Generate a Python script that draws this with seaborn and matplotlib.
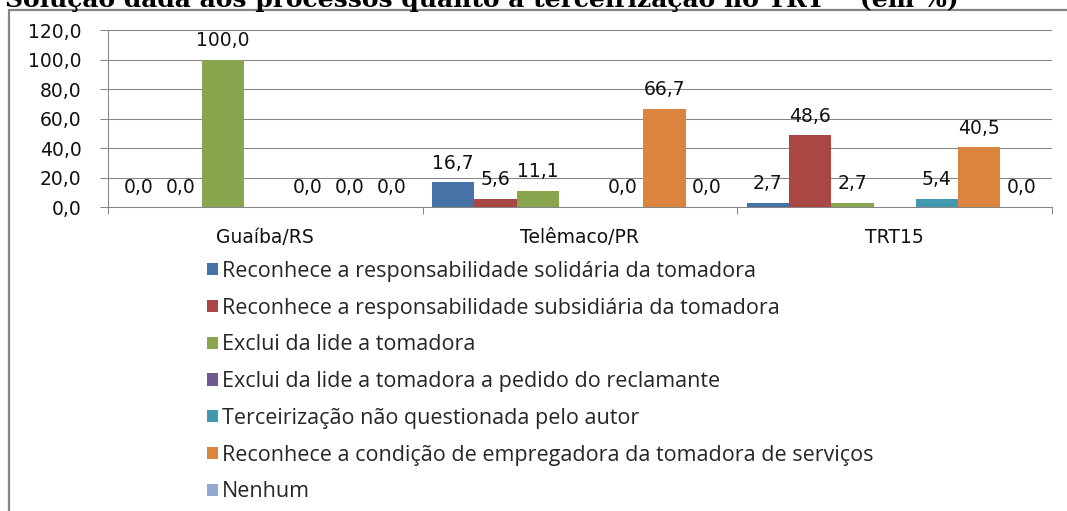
import numpy as np
import pandas as pd
import matplotlib
matplotlib.use("Agg")
import matplotlib.pyplot as plt
from matplotlib.patches import Patch
from matplotlib.lines import Line2D
import seaborn as sns

# ---- data -------------------------------------------------------------
locais = ["Guaíba/RS", "Telêmaco/PR", "TRT15"]

solucoes = [
    "Reconhece a responsabilidade solidária da tomadora",
    "Reconhece a responsabilidade subsidiária da tomadora",
    "Exclui da lide a tomadora",
    "Exclui da lide a tomadora a pedido do reclamante",
    "Terceirização não questionada pelo autor",
    "Reconhece a condição de empregadora da tomadora de serviços",
    "Nenhum",
]

solidaria = [0.0, 16.7, 2.7]
subsidiaria = [0.0, 5.6, 48.6]
exclui = [100.0, 11.1, 2.7]
exclui_pedido = [np.nan, np.nan, np.nan]
nao_questionada = [0.0, 0.0, 5.4]
empregadora = [0.0, 66.7, 40.5]
nenhum = [0.0, 0.0, 0.0]

y_ticks = [0, 20, 40, 60, 80, 100, 120]

cores = ["#4572A7", "#AA4643", "#89A54E", "#71588F", "#4198AF", "#DB843D", "#93A9CF"]

titulo = "Solução dada aos processos quanto à terceirização no TRT    (em %)"

# ---- long table -------------------------------------------------------
series = [solidaria, subsidiaria, exclui, exclui_pedido,
          nao_questionada, empregadora, nenhum]
rows = []
for nome, valores in zip(solucoes, series):
    for local, v in zip(locais, valores):
        rows.append({"local": local, "solucao": nome, "valor": v})
df = pd.DataFrame(rows)


def virgula(v):
    return f"{v:.1f}".replace(".", ",")


# ---- figure -----------------------------------------------------------
sns.set_theme(style="white")
plt.rcParams["font.family"] = ["DejaVu Sans"]

W, H = 1067, 511
fig = plt.figure(figsize=(W / 100, H / 100), dpi=100)
ax = fig.add_axes([108 / W, 1 - 207 / H, (1052 - 108) / W, (207 - 30) / H])

sns.barplot(data=df, x="local", y="valor", hue="solucao",
            order=locais, hue_order=solucoes, palette=cores, saturation=1,
            width=0.94, errorbar=None, linewidth=0, legend=False, ax=ax)

ax.set_xlim(-0.5, len(locais) - 0.5)
ax.set_ylim(0, 120)
ax.set_yticks(y_ticks)
ax.set_yticklabels([virgula(t) for t in y_ticks])
ax.set_xlabel("")
ax.set_ylabel("")

gris = "#868686"
ax.grid(axis="y", color=gris, linewidth=0.75)
ax.set_axisbelow(True)
for s in ["top", "right"]:
    ax.spines[s].set_visible(False)
for s in ["left", "bottom"]:
    ax.spines[s].set_color(gris)
    ax.spines[s].set_linewidth(0.75)

ax.tick_params(axis="y", which="major", length=6, width=0.75, color=gris,
               pad=13, labelsize=13.5, labelcolor="#111111", left=True)
ax.tick_params(axis="x", which="major", length=0, pad=15,
               labelsize=13.5, labelcolor="#111111")
ax.set_xticks(np.arange(len(locais) + 1) - 0.5, minor=True)
ax.tick_params(axis="x", which="minor", length=5, width=0.75, color=gris,
               bottom=True)

# value labels on every bar that carries a value
for cont in ax.containers:
    labels = ["" if np.isnan(v) else virgula(v) for v in cont.datavalues]
    ax.bar_label(cont, labels=labels, padding=7, fontsize=13.5, color="#111111")

# legend below the plot
handles = [Patch(facecolor=c, edgecolor="none") for c in cores]
fig.legend(handles, solucoes, loc="upper left",
           bbox_to_anchor=(207 / W, 1 - 261 / H),
           frameon=False, prop={"family": "Open Sans", "size": 15.5},
           handlelength=0.5, handleheight=0.5, handletextpad=0.2,
           labelspacing=0.73, borderaxespad=0, borderpad=0)

# title, partly above the top edge
fig.text(5 / W, 1 - 7 / H, titulo, ha="left", va="baseline",
         fontsize=18, fontweight="bold", family="DejaVu Serif",
         color="#000000")

# chart area border (left and top edges)
fig.add_artist(Line2D([8.5 / W, 8.5 / W], [0, 1 - 10.5 / H],
                      transform=fig.transFigure, color=gris, linewidth=1.6))
fig.add_artist(Line2D([8.5 / W, 1], [1 - 10.5 / H, 1 - 10.5 / H],
                      transform=fig.transFigure, color=gris, linewidth=1.6))

fig.savefig("out.png", dpi=100)
